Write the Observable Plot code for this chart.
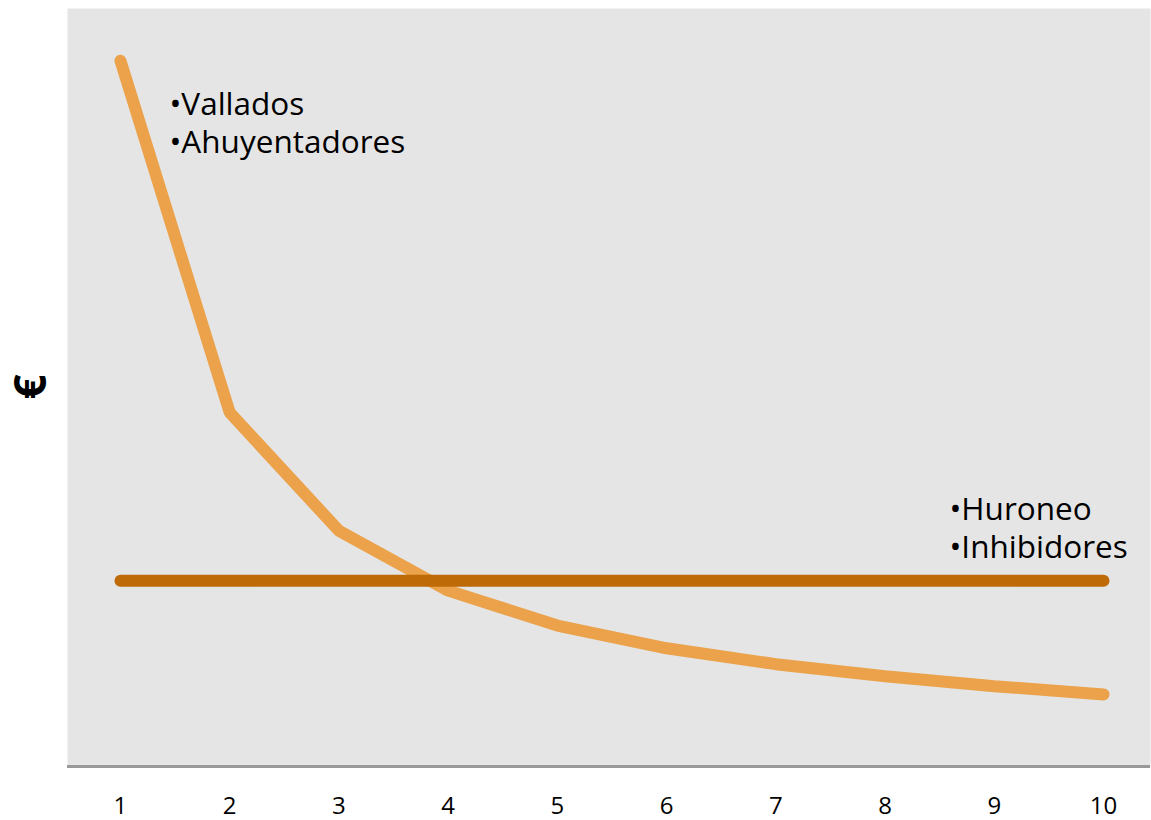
<!DOCTYPE html>
<html>
<head>
<meta charset="utf-8">
<script src="https://cdn.jsdelivr.net/npm/d3@7"></script>
<script src="https://cdn.jsdelivr.net/npm/@observablehq/plot@0.6"></script>
<style>
  html, body { margin: 0; padding: 0; background: #fff; }
</style>
</head>
<body>
<div id="chart"></div>
<script>
// Data
const years = [1, 2, 3, 4, 5, 6, 7, 8, 9, 10];
const costeAhuyentar = [93.1, 46.7, 31.1, 23.2, 18.6, 15.6, 13.5, 11.9, 10.6, 9.5];
const costeHuroneo = [24.5, 24.5, 24.5, 24.5, 24.5, 24.5, 24.5, 24.5, 24.5, 24.5];
const xTicks = [1, 2, 3, 4, 5, 6, 7, 8, 9, 10];
const yLabel = "€";
const labelTexts = ["•Vallados\n•Ahuyentadores", "•Huroneo\n•Inhibidores"];
const labelX = [1.449, 8.59];
const labelY = [89.5, 36.0];

const seriesA = years.map((x, i) => ({x, y: costeAhuyentar[i]}));
const seriesB = years.map((x, i) => ({x, y: costeHuroneo[i]}));
const labels = labelTexts.map((t, i) => ({text: t, x: labelX[i], y: labelY[i]}));

const chart = Plot.plot({
  width: 1151,
  height: 820,
  marginLeft: 67,
  marginRight: 1,
  marginTop: 8,
  marginBottom: 54,
  style: {fontFamily: "'Open Sans', sans-serif", background: "#fff", color: "#000"},
  x: {domain: [0.515, 10.43], ticks: xTicks, tickFormat: d => String(d)},
  y: {domain: [0, 100], axis: null},
  marks: [
    Plot.frame({fill: "#e5e5e5", stroke: null}),
    Plot.ruleY([0], {stroke: "#999", strokeWidth: 3}),
    Plot.axisX({ticks: xTicks, tickSize: 0, tickPadding: 30, fontSize: 24, label: null, tickFormat: d => String(d)}),
    Plot.line(seriesA, {x: "x", y: "y", stroke: "#eba24b", strokeWidth: 12, strokeLinecap: "round", strokeLinejoin: "miter"}),
    Plot.line(seriesB, {x: "x", y: "y", stroke: "#bd6a07", strokeWidth: 12, strokeLinecap: "round"}),
    Plot.text(labels, {x: "x", y: "y", text: "text", textAnchor: "start", lineAnchor: "top", fontSize: 31.5, lineHeight: 1.2, fill: "#000"}),
    Plot.text([yLabel], {frameAnchor: "left", dx: -36, dy: 12, rotate: -90, fontSize: 44, fontWeight: "bold", fill: "#000"})
  ]
});
document.getElementById("chart").appendChild(chart);
</script>
</body>
</html>
